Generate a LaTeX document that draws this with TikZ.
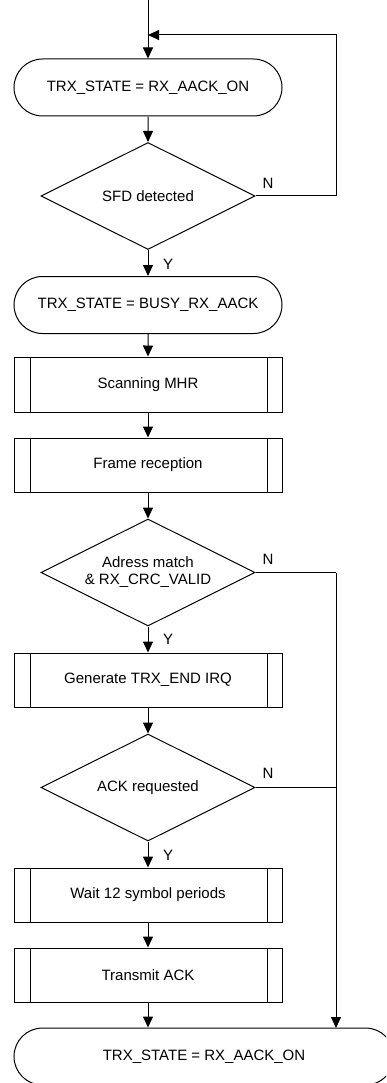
\documentclass[tikz,border=0pt]{standalone}
\usepackage{fontspec}
\setmainfont{Liberation Sans}
\usetikzlibrary{shapes.misc,shapes.geometric,arrows.meta}
\begin{document}
\begin{tikzpicture}[x=1pt,y=-1pt,
  every node/.style={font=\fontsize{15}{18}\selectfont},
  line width=1pt,
  arr/.style={-{Triangle[length=11pt,width=10pt]}},
  term/.style={draw,rounded rectangle,minimum width=268pt,minimum height=57pt,inner sep=0pt},
  proc/.style={draw,rectangle,minimum width=268pt,minimum height=54pt,inner sep=0pt,
    path picture={
      \draw ([xshift=16pt]path picture bounding box.north west) -- ([xshift=16pt]path picture bounding box.south west);
      \draw ([xshift=-15pt]path picture bounding box.north east) -- ([xshift=-15pt]path picture bounding box.south east);
    }},
  dec/.style={draw,diamond,minimum width=214pt,minimum height=107pt,inner sep=0pt,
    label={[align=center,inner sep=0pt]center:#1}},
  lbl/.style={inner sep=0pt}
]
\useasboundingbox (0,0) rectangle (386,1083);
\clip (0,0) rectangle (386,1083);

\coordinate (start) at (148,0);
\coordinate (join) at (148,35);
\node[term] (t1) at (148,87.5) {TRX\_STATE = RX\_AACK\_ON};
\node[dec={SFD detected}] (d1) at (148,196) {};
\node[term] (t2) at (148,305) {TRX\_STATE = BUSY\_RX\_AACK};
\node[proc,minimum height=55pt] (scan) at (148,384.5) {Scanning MHR};
\node[proc] (frame) at (148,465) {Frame reception};
\node[dec={Adress match\\[-1pt]\& RX\_CRC\_VALID}] (d2) at (148,572.5) {};
\node[proc] (gen) at (148,680) {Generate TRX\_END IRQ};
\node[dec={ACK requested}] (d3) at (148,787.5) {};
\node[proc] (wait) at (148,895) {Wait 12 symbol periods};
\node[proc] (tx) at (148,975) {Transmit ACK};
\node[term,minimum width=380pt] (t3) at (204,1056.5) {TRX\_STATE = RX\_AACK\_ON};

\coordinate (c1) at (336,196);
\coordinate (c2) at (336,35);
\coordinate (r2) at (336,572.5);
\coordinate (r3) at (336,787.5);
\coordinate (t3in) at (336,1028);

\draw[arr] (start) -- (t1.north);
\draw[arr] (d1.east) -- (c1) -- (c2) -- (join);
\draw[arr] (t1) -- (d1);
\draw[arr] (d1) -- (t2);
\draw[arr] (t2) -- (scan);
\draw[arr] (scan) -- (frame);
\draw[arr] (frame) -- (d2);
\draw[arr] (d2) -- (gen);
\draw[arr] (gen) -- (d3);
\draw[arr] (d3) -- (wait);
\draw[arr] (wait) -- (tx);
\draw[arr] (tx.south) -- (tx.south |- t3.north);
\draw (d2.east) -- (r2);
\draw (d3.east) -- (r3);
\draw[arr] (r2) -- (t3in);

\node[lbl] (n1) at (268,183) {N};
\node[lbl] (n2) at (268,559) {N};
\node[lbl] (n3) at (268,773) {N};
\node[lbl] (y1) at (168,264) {Y};
\node[lbl] (y2) at (168,639) {Y};
\node[lbl] (y3) at (168,855) {Y};
\end{tikzpicture}
\end{document}
